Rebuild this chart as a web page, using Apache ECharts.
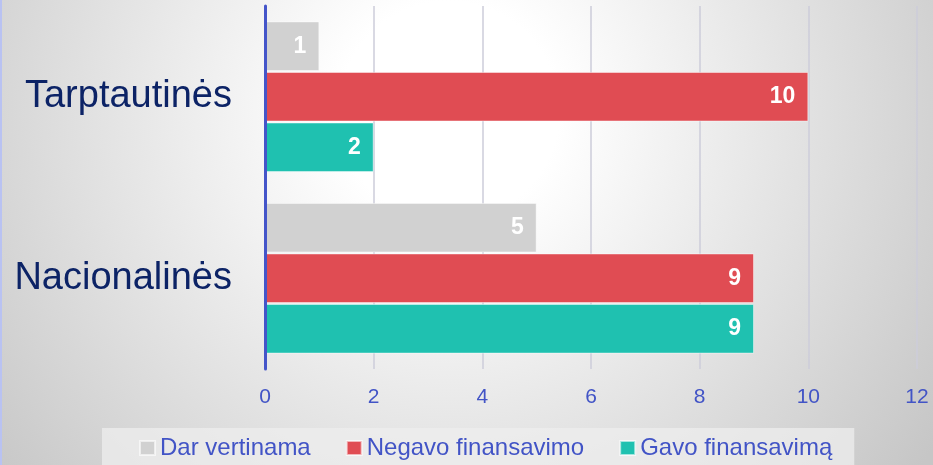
<!DOCTYPE html>
<html lang="lt">
<head>
    <meta charset="UTF-8">
    <title>Finansavimas</title>
    <style>
        * {
            margin: 0;
        }

        body {
            background: #fff;
        }

        #main {
            width: 933px;
            height: 465px;
            box-sizing: border-box;
            border-left: 2px solid #b9c2f2;
            background: radial-gradient(circle at 48% 24%, #ffffff 0, #ffffff 110px, #c6c6c6 590px);
        }
    </style>
    <script src="https://cdn.jsdelivr.net/npm/echarts@6/dist/echarts.min.js"></script>
</head>
<body>
<div id="main"></div>
<script>
    var myChart = echarts.init(document.getElementById('main'));

    // y axis goes bottom -> top
    var categories = ['Nacionalinės', 'Tarptautinės'];
    var darVertinama = [5, 1];
    var negavoFinansavimo = [9, 10];
    var gavoFinansavima = [9, 2];
    var xTicks = [0, 2, 4, 6, 8, 10, 12];

    var font = "'Liberation Sans', Arial, sans-serif";

    var labelStyle = {
        show: true,
        position: 'insideRight',
        distance: 13,
        color: '#fff',
        fontWeight: 'bold',
        fontSize: 23,
        fontFamily: font
    };

    function barSeries(name, data, color) {
        return {
            name: name,
            type: 'bar',
            data: data,
            barGap: '2%',
            barCategoryGap: '17%',
            itemStyle: {
                color: color,
                borderColor: 'rgba(255,255,255,0.45)',
                borderWidth: 1
            },
            label: labelStyle
        };
    }

    var option = {
        animation: false,
        textStyle: {fontFamily: font},
        grid: {
            left: 263,
            right: 16,
            top: 6,
            bottom: 96
        },
        legend: {
            data: ['Dar vertinama', 'Negavo finansavimo', 'Gavo finansavimą'],
            left: 100,
            top: 428,
            padding: [8, 22, 12, 37],
            backgroundColor: 'rgba(238,238,238,0.75)',
            itemWidth: 15,
            itemHeight: 14,
            itemGap: 35,
            icon: 'rect',
            itemStyle: {
                borderColor: 'rgba(255,255,255,0.6)',
                borderWidth: 2
            },
            textStyle: {
                color: '#4254c6',
                fontSize: 24,
                fontFamily: font
            }
        },
        xAxis: {
            type: 'value',
            min: xTicks[0],
            max: xTicks[xTicks.length - 1],
            interval: 2,
            axisLine: {show: false},
            axisTick: {show: false},
            splitLine: {
                lineStyle: {color: '#cccdda', width: 1.5}
            },
            axisLabel: {
                color: '#4254c6',
                fontSize: 21,
                margin: 18,
                fontFamily: font
            }
        },
        yAxis: {
            type: 'category',
            data: categories,
            z: 10,
            axisTick: {show: false},
            axisLine: {
                lineStyle: {color: '#4455c9', width: 3}
            },
            axisLabel: {
                color: '#0c2366',
                fontSize: 38,
                margin: 33,
                fontFamily: font
            }
        },
        series: [
            barSeries('Dar vertinama', darVertinama, '#d1d1d1'),
            barSeries('Negavo finansavimo', negavoFinansavimo, '#e04c53'),
            barSeries('Gavo finansavimą', gavoFinansavima, '#1fc1b0')
        ]
    };

    myChart.setOption(option);
</script>
</body>
</html>
